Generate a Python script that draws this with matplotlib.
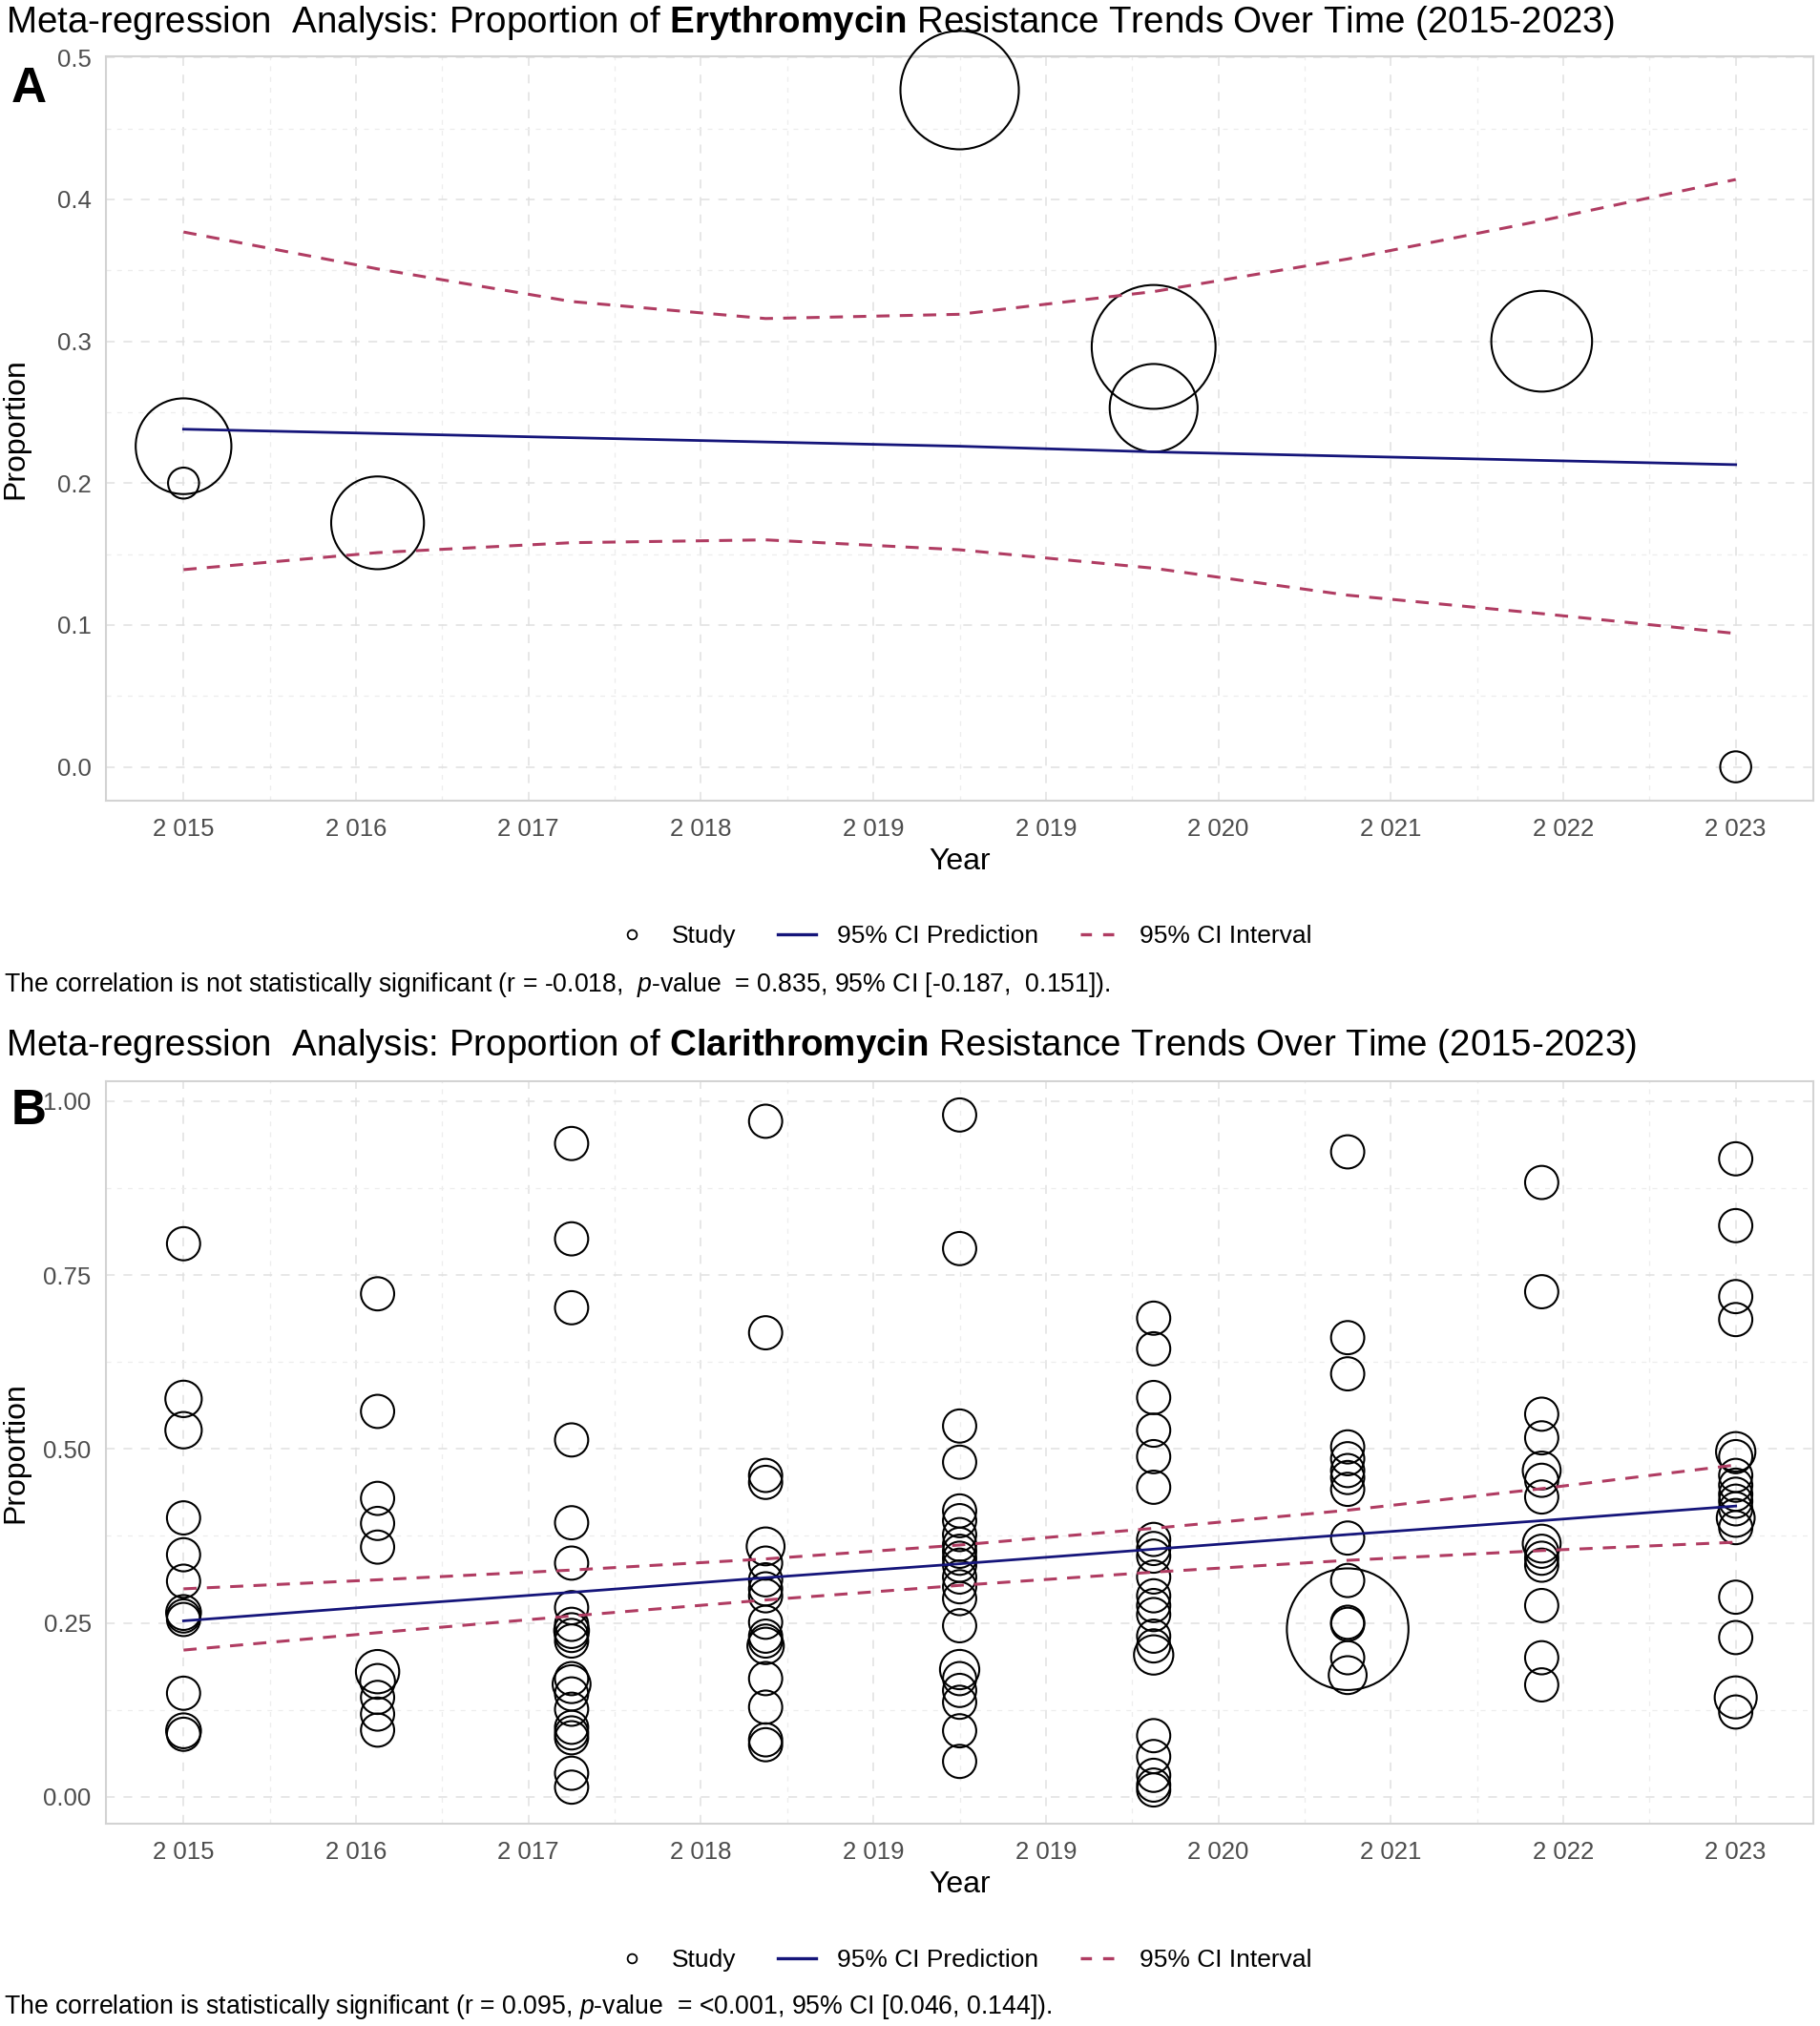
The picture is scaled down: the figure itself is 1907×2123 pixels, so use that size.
import matplotlib

matplotlib.use("Agg")
import matplotlib.pyplot as plt
import numpy as np
from matplotlib.lines import Line2D
from matplotlib.ticker import FixedLocator

plt.rcParams["font.family"] = ["Liberation Sans", "DejaVu Sans"]
plt.rcParams["mathtext.fontset"] = "custom"
plt.rcParams["mathtext.rm"] = "Liberation Sans"
plt.rcParams["mathtext.bf"] = "Liberation Sans:bold"
plt.rcParams["mathtext.it"] = "Liberation Sans:italic"

# ---- Erythromycin studies (panel A) ----
ery_year = [2015, 2015, 2016, 2019, 2020, 2020, 2022, 2023]
ery_prop = [0.226, 0.200, 0.172, 0.477, 0.296, 0.253, 0.300, 0.000]
ery_weight = [8.3, 0.87, 7.8, 12.7, 13.9, 7.0, 9.2, 0.87]

ery_fit_year = [2015, 2016, 2017, 2018, 2019, 2020, 2021, 2022, 2023]
ery_fit = [0.238, 0.235, 0.232, 0.229, 0.226, 0.222, 0.219, 0.216, 0.213]
ery_upper = [0.377, 0.351, 0.328, 0.316, 0.319, 0.335, 0.358, 0.385, 0.414]
ery_lower = [0.139, 0.151, 0.158, 0.160, 0.153, 0.140, 0.121, 0.108, 0.094]

# ---- Clarithromycin studies (panel B), one list per year ----
clar_2015 = [0.795, 0.572, 0.527, 0.401, 0.348, 0.310, 0.265, 0.260, 0.255, 0.149, 0.095, 0.090]
clar_2015_w = [1, 1.2, 1.2, 1, 1, 1, 1.1, 1, 1, 1, 1.1, 1]
clar_2016 = [0.723, 0.554, 0.429, 0.393, 0.359, 0.180, 0.166, 0.143, 0.119, 0.096]
clar_2016_w = [1, 1, 1, 1, 1, 1.7, 1.1, 1, 1, 1]
clar_2017 = [0.939, 0.802, 0.703, 0.513, 0.394, 0.336, 0.272, 0.248, 0.239, 0.232,
             0.224, 0.170, 0.162, 0.148, 0.126, 0.100, 0.092, 0.085, 0.034, 0.014]
clar_2017_w = [1, 1, 1, 1, 1, 1, 1, 1, 1.1, 1, 1, 1, 1.3, 1, 1, 1, 1, 1, 1, 1]
clar_2018 = [0.971, 0.667, 0.462, 0.452, 0.360, 0.336, 0.312, 0.299, 0.289, 0.251,
             0.231, 0.224, 0.217, 0.170, 0.129, 0.082, 0.075]
clar_2018_w = [1, 1, 1, 1, 1.3, 1, 1, 1, 1, 1, 1, 1, 1.2, 1, 1, 1, 1]
clar_2019 = [0.980, 0.788, 0.533, 0.481, 0.411, 0.397, 0.377, 0.363, 0.353, 0.343,
             0.333, 0.316, 0.302, 0.285, 0.246, 0.183, 0.170, 0.153, 0.136, 0.095, 0.051]
clar_2019_w = [1, 1, 1, 1, 1, 1, 1, 1, 1, 1, 1, 1, 1, 1, 1, 1.4, 1, 1, 1, 1, 1]
clar_2020 = [0.688, 0.644, 0.574, 0.527, 0.489, 0.445, 0.370, 0.357, 0.346, 0.316,
             0.289, 0.275, 0.262, 0.231, 0.217, 0.204, 0.088, 0.058, 0.031, 0.017, 0.010]
clar_2020_w = [1, 1, 1, 1, 1, 1, 1, 1, 1, 1, 1, 1, 1, 1, 1, 1.4, 1, 1, 1, 1, 1]
clar_2021 = [0.927, 0.660, 0.608, 0.503, 0.486, 0.469, 0.459, 0.442, 0.372, 0.311,
             0.251, 0.248, 0.241, 0.200, 0.175]
clar_2021_w = [1, 1, 1, 1, 1, 1, 1, 1, 1, 1, 1, 1, 13.4, 1, 1.3]
clar_2022 = [0.883, 0.726, 0.550, 0.516, 0.469, 0.455, 0.431, 0.364, 0.353, 0.343,
             0.333, 0.275, 0.200, 0.161]
clar_2022_w = [1, 1, 1, 1, 1.3, 1, 1, 1.3, 1, 1, 1, 1, 1, 1]
clar_2023 = [0.917, 0.821, 0.719, 0.686, 0.496, 0.489, 0.462, 0.448, 0.435, 0.425,
             0.414, 0.401, 0.387, 0.287, 0.229, 0.143, 0.122]
clar_2023_w = [1, 1, 1, 1, 1.4, 1, 1, 1, 1, 1, 1, 1.3, 1, 1, 1, 1.6, 1]

clar_fit_year = [2015, 2016, 2017, 2018, 2019, 2020, 2021, 2022, 2023]
clar_fit = [0.253, 0.274, 0.294, 0.315, 0.335, 0.356, 0.377, 0.397, 0.418]
clar_upper = [0.299, 0.312, 0.326, 0.342, 0.362, 0.386, 0.412, 0.443, 0.477]
clar_lower = [0.211, 0.236, 0.260, 0.283, 0.304, 0.323, 0.340, 0.354, 0.366]

clar_by_year = [
    (2015, clar_2015, clar_2015_w), (2016, clar_2016, clar_2016_w),
    (2017, clar_2017, clar_2017_w), (2018, clar_2018, clar_2018_w),
    (2019, clar_2019, clar_2019_w), (2020, clar_2020, clar_2020_w),
    (2021, clar_2021, clar_2021_w), (2022, clar_2022, clar_2022_w),
    (2023, clar_2023, clar_2023_w),
]
clar_year = [y for y, vals, _ in clar_by_year for _v in vals]
clar_prop = [v for _, vals, _ in clar_by_year for v in vals]
clar_weight = [w for _, _, ws in clar_by_year for w in ws]

FIT_COLOR = "#15157a"
CI_COLOR = "#b03c62"
TICK_GREY = "#4d4d4d"
BASE_AREA = 628  # marker area (pt^2) for weight 1

W, H = 1907, 2123
fig = plt.figure(figsize=(W / 100, H / 100), dpi=100)


def px_box(left, top, right, bottom):
    return [left / W, 1 - bottom / H, (right - left) / W, (bottom - top) / H]


def draw_panel(ax, years, props, weights, fit_years, fit, upper, lower, yticks, yfmt):
    ax.scatter(years, props, s=np.asarray(weights) * BASE_AREA, facecolors="none",
               edgecolors="black", linewidths=1.5, zorder=3, clip_on=False)
    ax.plot(fit_years, fit, color=FIT_COLOR, lw=2.0, zorder=4)
    ax.plot(fit_years, upper, color=CI_COLOR, lw=2.2, ls=(0, (4.5, 3.5)), zorder=4)
    ax.plot(fit_years, lower, color=CI_COLOR, lw=2.2, ls=(0, (4.5, 3.5)), zorder=4)

    ax.set_xlim(2014.6, 2023.4)
    lo, hi = min(props), max(props)
    pad = 0.05 * (hi - lo)
    ax.set_ylim(lo - pad, hi + pad)

    xt = np.linspace(2015, 2023, 10)
    ax.xaxis.set_major_locator(FixedLocator(xt))
    ax.xaxis.set_minor_locator(FixedLocator((xt[:-1] + xt[1:]) / 2))
    ax.set_xticklabels([f"{int(round(v)):,}".replace(",", " ") for v in xt])
    ax.yaxis.set_major_locator(FixedLocator(yticks))
    ax.yaxis.set_minor_locator(FixedLocator((np.array(yticks[:-1]) + np.array(yticks[1:])) / 2))
    ax.set_yticklabels([yfmt.format(v) for v in yticks])

    ax.tick_params(which="both", length=0)
    ax.tick_params(axis="x", pad=13, labelsize=18.5, labelcolor=TICK_GREY)
    ax.tick_params(axis="y", pad=11, labelsize=18.5, labelcolor=TICK_GREY)
    ax.grid(which="major", color="#e0e0e0", lw=1.1, ls=(0, (6, 6)))
    ax.grid(which="minor", color="#ededed", lw=0.9, ls=(0, (4, 5)))
    ax.set_axisbelow(True)
    for sp in ax.spines.values():
        sp.set_color("#d3d3d3")
        sp.set_linewidth(1.5)

    ax.set_xlabel("Year", fontsize=23)
    ax.xaxis.set_label_coords(0.5, -0.082)
    ax.xaxis.label.set_va("center")
    ax.set_ylabel("Proportion", fontsize=23)
    ax.yaxis.set_label_coords(-0.053, 0.5)
    ax.yaxis.label.set_va("center")


def legend_for(y_px):
    handles = [
        Line2D([], [], ls="none", marker="o", markersize=7, mfc="none", mec="black", mew=1.3),
        Line2D([], [], color=FIT_COLOR, lw=2.4),
        Line2D([], [], color=CI_COLOR, lw=2.4, ls=(0, (3.5, 3.5))),
    ]
    labels = ["Study", "95% CI Prediction", "95% CI Interval"]
    fig.legend(handles, labels, loc="center", bbox_to_anchor=(1008 / W, 1 - y_px / H),
               ncol=3, frameon=False, fontsize=19, handlelength=1.5,
               handletextpad=0.85, columnspacing=1.65)


ax_a = fig.add_axes(px_box(111, 59, 1900, 839))
draw_panel(ax_a, ery_year, ery_prop, ery_weight, ery_fit_year, ery_fit, ery_upper,
           ery_lower, [0.0, 0.1, 0.2, 0.3, 0.4, 0.5], "{:.1f}")
ax_b = fig.add_axes(px_box(111, 1133, 1900, 1911))
draw_panel(ax_b, clar_year, clar_prop, clar_weight, clar_fit_year, clar_fit, clar_upper,
           clar_lower, [0.0, 0.25, 0.5, 0.75, 1.0], "{:.2f}")

fig.text(6 / W, 1 - 34 / H,
         r"Meta-regression  Analysis: Proportion of $\mathbf{Erythromycin}$ Resistance Trends Over Time (2015-2023)",
         fontsize=27.7, va="baseline", ha="left")
fig.text(6 / W, 1 - 1106 / H,
         r"Meta-regression  Analysis: Proportion of $\mathbf{Clarithromycin}$ Resistance Trends Over Time (2015-2023)",
         fontsize=27.7, va="baseline", ha="left")

fig.text(12 / W, 1 - 107 / H, "A", fontsize=37, fontweight="bold", va="baseline")
fig.text(12 / W, 1 - 1178 / H, "B", fontsize=37, fontweight="bold", va="baseline")

legend_for(981)
legend_for(2054)

fig.text(4 / W, 1 - 1039 / H,
         r"The correlation is not statistically significant (r = -0.018,  $\mathit{p}$-value  = 0.835, 95% CI [-0.187,  0.151]).",
         fontsize=19.2, va="baseline", ha="left")
fig.text(4 / W, 1 - 2110 / H,
         r"The correlation is statistically significant (r = 0.095, $\mathit{p}$-value  = <0.001, 95% CI [0.046, 0.144]).",
         fontsize=19.2, va="baseline", ha="left")

fig.savefig("out.png", dpi=100, facecolor="white")
